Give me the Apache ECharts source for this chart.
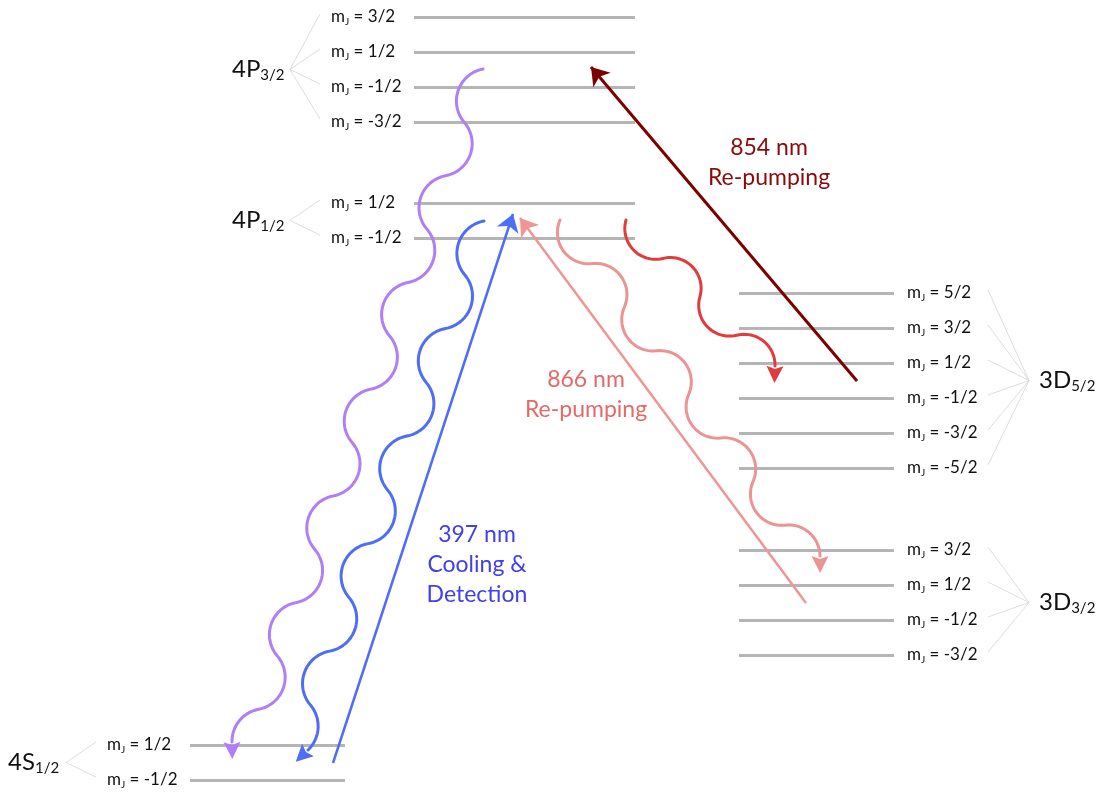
<!DOCTYPE html>
<html>
<head>
<meta charset="utf-8">
<script src="https://cdn.jsdelivr.net/npm/echarts@6/dist/echarts.min.js"></script>
<style>
html, body { margin: 0; padding: 0; background: #fff; }
#chart { width: 1099px; height: 794px; }
</style>
</head>
<body>
<div id="chart"></div>
<script>
// Ca+ level scheme: each manifold, its Zeeman sub-levels and the drawn energy (y) of each
var termNames = ['4P', '4P', '3D', '3D', '4S'];
var termJ = ['3/2', '1/2', '5/2', '3/2', '1/2'];
var termSide = ['left', 'left', 'right', 'right', 'left'];
var termMj = [
    ['3/2', '1/2', '-1/2', '-3/2'],
    ['1/2', '-1/2'],
    ['5/2', '3/2', '1/2', '-1/2', '-3/2', '-5/2'],
    ['3/2', '1/2', '-1/2', '-3/2'],
    ['1/2', '-1/2']
];
var termLevels = [
    [17, 52, 87, 122],
    [203, 238],
    [293, 328, 363, 398, 433, 468],
    [550, 585, 620, 655],
    [745, 780]
];
var termSpan = [[414, 635], [414, 635], [739, 894], [739, 894], [190, 345]];

// laser transitions (straight arrows)
var laserNames = ['397 nm', '854 nm', '866 nm'];
var laserFrom = [[333, 763], [857, 381], [806, 603]];
var laserTo = [[513, 214], [591, 67], [520, 218]];
var laserText = [['397 nm', 'Cooling &', 'Detection'], ['854 nm', 'Re-pumping'], ['866 nm', 'Re-pumping']];

// spontaneous decays (wavy arrows): start, end of the wave, number of half waves
var decayFrom = [[483, 69], [484, 221], [560, 220], [626, 220]];
var decayTo = [[232, 742], [308, 750], [820, 556], [775, 366]];
var decayHalfWaves = [12.67, 9.72, 7.8, 3.88];

// styles
var FONT = 'Lato, "Open Sans", sans-serif';
var laserColor = ['#4f6df5', '#7d0000', '#ef9595'];
var laserWidth = [2.5, 3, 2.5];
var laserTextColor = ['#4040ee', '#8b0b0b', '#e46a6a'];
var laserTextPos = [[477, 565], [769, 163], [586, 395]];
var decayColor = ['#b17ff5', '#4f6df5', '#eb9494', '#e23b3b'];
var WAVE_ALPHA = 60 * Math.PI / 180;

var chart = echarts.init(document.getElementById('chart'));

// level lines, fan lines and labels
var levelLines = [];
var fanLines = [];
var labels = [];
termNames.forEach(function (name, i) {
    var lv = termLevels[i];
    var x0 = termSpan[i][0], x1 = termSpan[i][1];
    var left = termSide[i] === 'left';
    var mid = lv.reduce(function (a, b) { return a + b; }, 0) / lv.length;
    var join = left ? [x0 - 124, mid] : [x1 + 135, mid];
    lv.forEach(function (y, k) {
        levelLines.push({ coords: [[x0, y], [x1, y]] });
        var fx = left ? x0 - 94 : x1 + 94;
        fanLines.push({ coords: [join, [fx, y - 3]] });
        labels.push({
            pos: [left ? x0 - 83 : x1 + 13, y],
            text: '{m|m}{j|J}{m| = ' + termMj[i][k] + '}',
            align: 'left', fill: '#111'
        });
    });
    labels.push({
        pos: [left ? x0 - 182 : x1 + 145, mid],
        text: '{t|' + name + '}{s|' + termJ[i] + '}',
        align: 'left', fill: '#111'
    });
});
laserText.forEach(function (lines, i) {
    labels.push({
        pos: laserTextPos[i],
        text: lines.join('\n'),
        align: 'center', fill: laserTextColor[i], plain: true
    });
});

// photon wave: chain of circular arcs from s to e (pixels), half = number of arcs
function wave(s, e, half, alpha) {
    var ni = Math.floor(half), fr = half - ni;
    var sa = Math.sin(alpha), ca = Math.cos(alpha);
    var phiEnd = -alpha + 2 * alpha * fr;
    var sigLast = ni % 2 === 0 ? 1 : -1;
    var ka = ni + 0.5 + Math.sin(phiEnd) / (2 * sa);
    var kb = sigLast * (Math.cos(phiEnd) - ca) / (2 * sa);
    var dx = e[0] - s[0], dy = e[1] - s[1];
    var h = Math.sqrt(dx * dx + dy * dy) / Math.sqrt(ka * ka + kb * kb);
    var th = Math.atan2(dy, dx) - Math.atan2(kb, ka);
    var ux = Math.cos(th), uy = Math.sin(th), px = -uy, py = ux;
    var R = h / (2 * sa);
    function at(i, phi) {
        var sig = i % 2 === 0 ? 1 : -1;
        var a = i * h + h / 2 + R * Math.sin(phi);
        var b = sig * R * (Math.cos(phi) - ca);
        return [s[0] + a * ux + b * px, s[1] + a * uy + b * py];
    }
    var pts = [];
    var steps = 24;
    for (var i = 0; i <= ni; i++) {
        var f = i < ni ? 1 : fr;
        if (f <= 0) break;
        for (var j = (i === 0 ? 0 : 1); j <= steps; j++) {
            pts.push(at(i, -alpha + 2 * alpha * f * j / steps));
        }
    }
    var tA = Math.cos(phiEnd), tB = -sigLast * Math.sin(phiEnd);
    var tx = tA * ux + tB * px, ty = tA * uy + tB * py;
    var last = pts[pts.length - 1];
    var hl = 17, hw = 8.5;
    var head = [
        [last[0] + tx * hl, last[1] + ty * hl],
        [last[0] - ty * hw, last[1] + tx * hw],
        [last[0] + tx * 3, last[1] + ty * 3],
        [last[0] + ty * hw, last[1] - tx * hw]
    ];
    return { pts: pts, head: head };
}

var series = [
    {
        type: 'lines',
        coordinateSystem: 'cartesian2d',
        silent: true,
        z: 1,
        lineStyle: { color: '#d4d4d4', width: 0.8, opacity: 1 },
        data: fanLines
    },
    {
        type: 'lines',
        coordinateSystem: 'cartesian2d',
        silent: true,
        z: 1,
        lineStyle: { color: '#b5b5b5', width: 3, opacity: 1 },
        data: levelLines
    },
    {
        type: 'custom',
        coordinateSystem: 'cartesian2d',
        silent: true,
        z: 3,
        encode: { x: [0, 2], y: [1, 3] },
        data: decayFrom.map(function (v, i) {
            return [v[0], v[1], decayTo[i][0], decayTo[i][1], decayHalfWaves[i], i];
        }),
        renderItem: function (params, api) {
            var i = api.value(5);
            var s = api.coord([api.value(0), api.value(1)]);
            var e = api.coord([api.value(2), api.value(3)]);
            var w = wave(s, e, api.value(4), WAVE_ALPHA);
            return {
                type: 'group',
                children: [
                    { type: 'polyline', shape: { points: w.pts },
                      style: { stroke: decayColor[i], lineWidth: 3, fill: null, lineCap: 'round', lineJoin: 'round' } },
                    { type: 'polygon', shape: { points: w.head }, style: { fill: decayColor[i] } }
                ]
            };
        }
    },
    {
        type: 'custom',
        coordinateSystem: 'cartesian2d',
        silent: true,
        z: 5,
        data: labels.map(function (l, i) { return [l.pos[0], l.pos[1], i]; }),
        renderItem: function (params, api) {
            var l = labels[api.value(2)];
            var p = api.coord([api.value(0), api.value(1)]);
            return {
                type: 'text',
                x: p[0],
                y: p[1],
                style: {
                    text: l.text,
                    fill: l.fill,
                    fontFamily: FONT,
                    fontSize: 23,
                    lineHeight: 30,
                    align: l.align,
                    verticalAlign: 'middle',
                    rich: l.plain ? undefined : {
                        m: { fontSize: 17, lineHeight: 20, fontFamily: FONT, fill: l.fill },
                        j: { fontSize: 10, lineHeight: 9, verticalAlign: 'bottom', fontFamily: FONT, fill: l.fill },
                        t: { fontSize: 24, lineHeight: 26, fontFamily: FONT, fill: l.fill },
                        s: { fontSize: 15, lineHeight: 10, verticalAlign: 'bottom', fontFamily: FONT, fill: l.fill }
                    }
                }
            };
        }
    }
];

laserNames.forEach(function (name, i) {
    series.push({
        type: 'lines',
        name: name,
        coordinateSystem: 'cartesian2d',
        silent: true,
        z: 4,
        symbol: ['none', 'arrow'],
        symbolSize: [0, 17],
        lineStyle: { color: laserColor[i], width: laserWidth[i], opacity: 1 },
        data: [{ coords: [laserFrom[i], laserTo[i]] }]
    });
});

chart.setOption({
    animation: false,
    backgroundColor: '#fff',
    grid: { left: 0, right: 0, top: 0, bottom: 0 },
    xAxis: { type: 'value', min: 0, max: 1099, show: false },
    yAxis: { type: 'value', min: 0, max: 794, inverse: true, show: false },
    series: series
});
</script>
</body>
</html>
